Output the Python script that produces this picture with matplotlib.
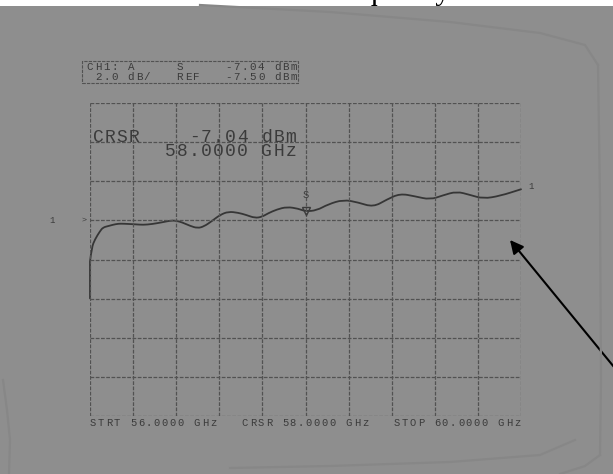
import numpy as np
import matplotlib
matplotlib.use('Agg')
import matplotlib.pyplot as plt
from matplotlib.lines import Line2D
from matplotlib.patches import Rectangle, PathPatch
from matplotlib.path import Path

W, H = 613, 474

# sweep settings of the analyser
f_start, f_stop, f_cursor = 56.0, 60.0, 58.0
ref_level = -7.50      # dBm
scale_db = 2.0         # dB / div
n_xdiv, n_ydiv = 10, 8
ref_div = 5            # reference line counted from the bottom

# trace read along the sweep (GHz, dBm)
freq = [56.000, 56.000, 56.016, 56.046, 56.093, 56.121, 56.170, 56.216, 56.263,
        56.309, 56.418, 56.492, 56.575, 56.668, 56.758, 56.807, 56.854, 56.928,
        56.998, 57.058, 57.130, 57.207, 57.284, 57.376, 57.448, 57.531, 57.596,
        57.652, 57.735, 57.828, 57.933, 58.000, 58.104, 58.209, 58.351, 58.487,
        58.629, 58.756, 58.877, 59.016, 59.156, 59.276, 59.403, 59.527, 59.650,
        59.805, 60.000]
power = [-11.49, -9.60, -8.88, -8.47, -8.05, -7.86, -7.79, -7.72, -7.67,
         -7.67, -7.70, -7.73, -7.69, -7.60, -7.50, -7.53, -7.60, -7.78,
         -7.90, -7.81, -7.54, -7.22, -7.05, -7.11, -7.22, -7.38, -7.32,
         -7.14, -6.94, -6.81, -6.90, -7.04, -6.99, -6.68, -6.44, -6.58,
         -6.82, -6.43, -6.13, -6.27, -6.44, -6.22, -6.02, -6.20, -6.39,
         -6.25, -5.91]

cursor_db = power[freq.index(f_cursor)]

bg = '#8e8e8e'
ink = '#3b3b3b'
grid_c = '#525252'
mono = 'Liberation Mono'

fig = plt.figure(figsize=(W / 100, H / 100), dpi=100, facecolor=bg)


def fy(y):
    return 1 - y / H


def plotter(x0, y, s, pitch, size):
    # fixed-pitch characters like the pen plotter output
    for i, ch in enumerate(s):
        if ch != ' ':
            fig.text((x0 + (i + 0.5) * pitch) / W, fy(y), ch, ha='center',
                     va='baseline', fontsize=size, family=mono, color=ink)


# faint creases of the scanned sheet
crease = '#878787'
for xs, ys in [([200, 330, 450, 540, 585, 598], [5, 12, 22, 33, 45, 65]),
               ([598, 600, 601, 600], [65, 200, 380, 455]),
               ([600, 585, 560], [455, 466, 474]),
               ([230, 330, 450, 540, 575], [468, 466, 462, 455, 440]),
               ([3, 7, 10, 9], [380, 410, 440, 474])]:
    fig.add_artist(Line2D(np.array(xs) / W, 1 - np.array(ys) / H,
                          color=crease, lw=1.6, transform=fig.transFigure))

# strip of the page above the scan with the caption's lower edge
fig.add_artist(Rectangle((0, fy(5.5)), 1, 5.5 / H, facecolor='white',
                         edgecolor='none', transform=fig.transFigure))
fig.text(322 / W, fy(-1), 'Frequency', family='Liberation Serif', fontsize=22,
         color='black', ha='left', va='baseline')

ax = fig.add_axes([90 / W, 58 / H, 431 / W, 313 / H])
ax.set_facecolor('none')
bottom = ref_level - ref_div * scale_db
top = bottom + n_ydiv * scale_db
ax.set_xlim(f_start, f_stop)
ax.set_ylim(bottom, top)
ax.axis('off')

for xv in np.linspace(f_start, f_stop, n_xdiv + 1):
    ax.axvline(xv, color=grid_c, lw=0.9, ls=(0, (3, 1.2)))
for yv in np.linspace(bottom, top, n_ydiv + 1):
    ax.axhline(yv, color=grid_c, lw=0.9, ls=(0, (3, 1.2)))

# pen trace: quadratic segments through the sample points
pts = np.column_stack([freq, power])
verts = [pts[0], pts[1]]
codes = [Path.MOVETO, Path.LINETO]
for i in range(2, len(pts) - 1):
    verts += [pts[i], (pts[i] + pts[i + 1]) / 2]
    codes += [Path.CURVE3, Path.CURVE3]
verts.append(pts[-1])
codes.append(Path.LINETO)
ax.add_patch(PathPatch(Path(verts, codes), facecolor='none',
                       edgecolor='#363636', lw=1.3, joinstyle='round',
                       capstyle='round', clip_on=False))

# cursor symbol
ax.plot([f_cursor], [cursor_db], marker='v', ms=6, mfc='none', mec=ink,
        mew=1.0)
ax.annotate('S', (f_cursor, cursor_db), xytext=(0, 11),
            textcoords='offset pixels', ha='center', va='bottom',
            fontsize=7.5, family=mono, color=ink)

# reference level pointer and channel labels
ax.annotate('>', (f_start, ref_level), xytext=(-6, 0),
            textcoords='offset pixels', ha='center', va='center',
            fontsize=6, family=mono, color=ink)
ax.annotate('1', (f_start, ref_level), xytext=(-38, 0),
            textcoords='offset pixels', ha='center', va='center',
            fontsize=6.5, family=mono, color=ink)
ax.annotate('1', (f_stop, power[-1]), xytext=(10, 3),
            textcoords='offset pixels', ha='center', va='center',
            fontsize=6.5, family=mono, color=ink)

# header box
fig.add_artist(Rectangle((82 / W, fy(83)), 216 / W, 22 / H, facecolor='none',
                         edgecolor=grid_c, lw=0.8, ls=(0, (3, 1)),
                         transform=fig.transFigure))
plotter(86, 70.5, f'CH1: A     S     {cursor_db:.2f} dBm', 8.15, 7.8)
plotter(86, 80, f' {scale_db:.1f} dB/   REF   {ref_level:.2f} dBm', 8.15, 7.8)

# cursor readout
plotter(92, 142, 'CRSR', 12.0, 13)
plotter(188, 142, f'{cursor_db:.2f} dBm', 12.1, 13)
plotter(164, 156, f'{f_cursor:.4f} GHz', 12.1, 13)

# sweep annotation
plotter(89, 425.5, f'STRT {f_start:.4f} GHz   CRSR {f_cursor:.4f} GHz   '
        f'STOP {f_stop:.4f} GHz', 8.0, 7.6)

# pointer arrow
ax.annotate('', xy=(510, H - 240), xycoords='figure pixels',
            xytext=(614, H - 367), textcoords='figure pixels',
            arrowprops=dict(arrowstyle='-|>', color='black', lw=1.5,
                            mutation_scale=20, shrinkA=0, shrinkB=0))

fig.savefig('out.png', dpi=100, facecolor=bg)
